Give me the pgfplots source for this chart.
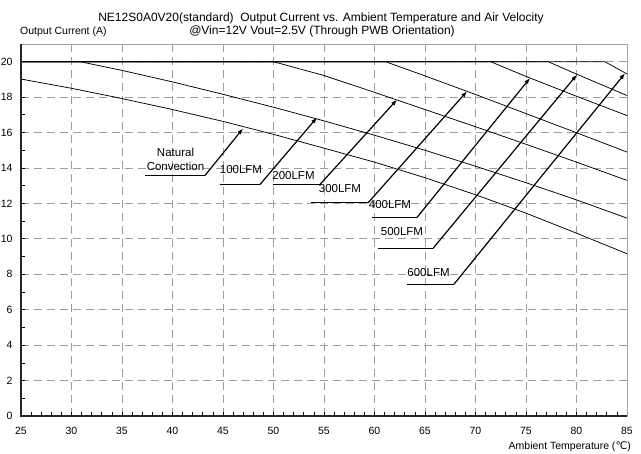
\documentclass[border=0pt]{standalone}
\usepackage{fontspec}
\setmainfont{Liberation Sans}
\newfontfamily\dejavu{DejaVu Sans}
\usepackage{pgfplots}
\pgfplotsset{compat=1.18}
\usetikzlibrary{arrows.meta}

\begin{document}
\begin{tikzpicture}[x=1pt,y=1pt]
\useasboundingbox (0,0) rectangle (641,454);
\begin{axis}[
    at={(21pt,38pt)}, anchor=south west,
    scale only axis, width=606pt, height=372pt,
    xmin=25, xmax=85, ymin=0, ymax=21,
    xtick={25,30,...,85}, ytick={0,2,...,20},
    minor x tick num=4, minor y tick num=1,
    tick align=inside, tick pos=left,
    major tick length=4pt, minor tick length=4pt,
    every tick/.style={black, line width=0.7pt},
    grid=major,
    major grid style={black!38, line width=0.7pt, dash pattern=on 8pt off 5pt},
    axis line style={black!35, line width=0.7pt},
    /pgf/number format/assume math mode=true,
    ticklabel style={font=\fontsize{10.5}{12}\selectfont},
    xticklabel style={yshift=-8pt},
    yticklabel style={xshift=-5pt},
    clip=false,
    ]
    % natural convection
    \addplot[black, line width=0.75pt] coordinates {
        (25,19.02) (30,18.5) (35,17.92) (40,17.3) (45,16.63) (50,15.9) (55,15.12)
        (60,14.33) (65,13.45) (70,12.49) (75,11.45) (80,10.32) (85,9.16)
    };
    % 100LFM
    \addplot[black, line width=0.75pt] coordinates {
        (25,20) (30.85,20) (35,19.51) (40,18.86) (45,18.16) (50,17.43) (55,16.66)
        (60,15.85) (65,15.0) (70,14.10) (75,13.17) (80,12.20) (85,11.17)
    };
    % 200LFM
    \addplot[black, line width=0.75pt] coordinates {
        (25,20) (50,20) (55,19.22) (60,18.27) (65,17.3) (70,16.33) (75,15.34) (80,14.33) (85,13.3)
    };
    % 300LFM
    \addplot[black, line width=0.75pt] coordinates {
        (25,20) (61.1,20) (65,19.2) (70,18.15) (75,17.07) (80,15.99) (85,14.9)
    };
    % 400LFM
    \addplot[black, line width=0.75pt] coordinates {
        (25,20) (71.5,20) (75,19.17) (80,18.05) (85,16.96)
    };
    % 500LFM
    \addplot[black, line width=0.75pt] coordinates {
        (25,20) (77.2,20) (80,19.3) (85,18.09)
    };
    % 600LFM
    \addplot[black, line width=0.75pt] coordinates {
        (25,20) (82.8,20) (85,19.31)
    };

    % frame: left and bottom dark
    \draw[black!85, line width=1.6pt] (rel axis cs:0,1) -- (rel axis cs:0,0) -- (rel axis cs:1,0);

    % leaders
    \tikzset{lead/.style={black, line width=0.8pt},
             arr/.style={black, line width=1.2pt, -{Latex[length=6pt,width=4.5pt]}}}
    \draw[lead] (axis cs:37.28,13.58) -- (axis cs:43.22,13.58);
    \draw[arr] (axis cs:43.22,13.58) -- (axis cs:46.98,16.23);
    \draw[lead] (axis cs:44.70,13.07) -- (axis cs:48.66,13.07);
    \draw[arr] (axis cs:48.66,13.07) -- (axis cs:54.31,16.85);
    \draw[lead] (axis cs:49.95,13.07) -- (axis cs:54.6,13.07);
    \draw[arr] (axis cs:54.6,13.07) -- (axis cs:62.23,17.86);
    \draw[lead] (axis cs:53.71,12.03) -- (axis cs:59.36,12.03);
    \draw[arr] (axis cs:59.36,12.03) -- (axis cs:69.16,18.33);
    \draw[lead] (axis cs:59.75,11.21) -- (axis cs:64.21,11.21);
    \draw[arr] (axis cs:64.21,11.21) -- (axis cs:75.40,19.08);
    \draw[lead] (axis cs:60.35,9.46) -- (axis cs:65.79,9.46);
    \draw[arr] (axis cs:65.79,9.46) -- (axis cs:80.05,19.27);
    \draw[lead] (axis cs:63.22,7.44) -- (axis cs:67.87,7.44);
    \draw[arr] (axis cs:67.87,7.44) -- (axis cs:84.80,19.34);

    \tikzset{lbl/.style={font=\fontsize{11.5}{14}\selectfont, inner sep=0pt}}
    \node[lbl, align=center] at (axis cs:40.3,14.5) {Natural\\Convection};
    \node[lbl] at (axis cs:46.78,13.92) {100LFM};
    \node[lbl] at (axis cs:51.98,13.58) {200LFM};
    \node[lbl] at (axis cs:56.58,12.85) {300LFM};
    \node[lbl] at (axis cs:61.53,11.92) {400LFM};
    \node[lbl] at (axis cs:62.72,10.39) {500LFM};
    \node[lbl] at (axis cs:65.35,8.11) {600LFM};

    % titles and axis labels
    \node[anchor=base, font=\fontsize{12}{14}\selectfont, inner sep=0pt]
        at ([xshift=-3pt,yshift=22pt]rel axis cs:0.5,1)
        {NE12S0A0V20(standard)\ \ Output Current vs. Ambient Temperature and Air Velocity};
    \node[anchor=base, font=\fontsize{12}{14}\selectfont, inner sep=0pt]
        at ([xshift=-2pt,yshift=9pt]rel axis cs:0.5,1)
        {@Vin=12V Vout=2.5V (Through PWB Orientation)};
    \node[anchor=base west, font=\fontsize{10.5}{12}\selectfont, inner sep=0pt]
        at ([xshift=-1pt,yshift=9pt]rel axis cs:0,1) {Output Current (A)};
    \node[anchor=base east, font=\fontsize{10.5}{12}\selectfont, inner sep=0pt]
        at ([xshift=4pt,yshift=-34pt]rel axis cs:1,0) {Ambient Temperature ({\dejavu ℃})};
\end{axis}
\end{tikzpicture}
\end{document}
